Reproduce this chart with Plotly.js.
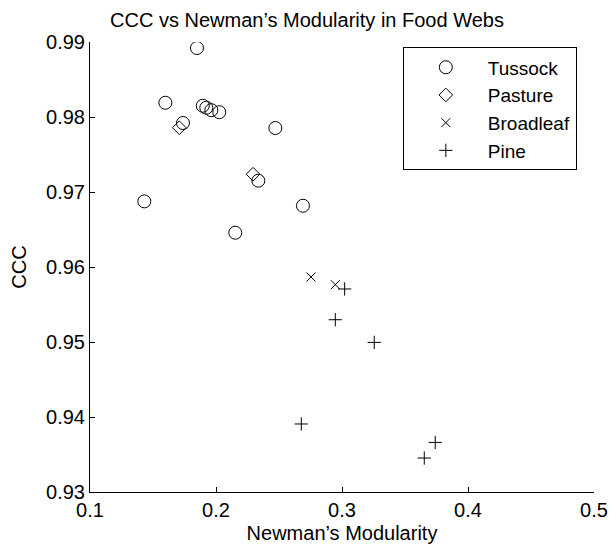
<!DOCTYPE html>
<html>
<head>
<meta charset="utf-8">
<script src="https://cdn.plot.ly/plotly-3.0.1.min.js"></script>
<style>html,body{margin:0;padding:0;background:#fff;}#chart{width:610px;height:546px;}</style>
</head>
<body>
<div id="chart"></div>
<script>
// Data
const tussockX = [0.1849, 0.1598, 0.1895, 0.1923, 0.1963, 0.2026, 0.1738, 0.2471, 0.2336, 0.1431, 0.2690, 0.2153];
const tussockY = [0.9892, 0.9819, 0.9815, 0.98124, 0.98091, 0.98064, 0.9792, 0.97853, 0.97151, 0.96875, 0.96817, 0.96457];
const pastureX = [0.1709, 0.2294];
const pastureY = [0.97857, 0.97237];
const broadleafX = [0.2754, 0.2947];
const broadleafY = [0.95867, 0.95764];
const pineX = [0.3021, 0.2947, 0.3256, 0.2677, 0.3740, 0.3653];
const pineY = [0.95707, 0.95297, 0.94995, 0.93907, 0.93661, 0.93453];
const seriesNames = ['Tussock', 'Pasture', 'Broadleaf', 'Pine'];
const xTicks = [0.1, 0.2, 0.3, 0.4, 0.5];
const yTicks = [0.93, 0.94, 0.95, 0.96, 0.97, 0.98, 0.99];

const FONT = 'Liberation Sans, Arial, Helvetica, sans-serif';
const lineStyle = {color: '#000', width: 1};
const traces = [
  {x: tussockX, y: tussockY, name: seriesNames[0], type: 'scatter', mode: 'markers',
   marker: {symbol: 'circle-open', size: 13, color: '#000', line: lineStyle}},
  {x: pastureX, y: pastureY, name: seriesNames[1], type: 'scatter', mode: 'markers',
   marker: {symbol: 'diamond-open', size: 10.5, color: '#000', line: lineStyle}},
  {x: broadleafX, y: broadleafY, name: seriesNames[2], type: 'scatter', mode: 'markers',
   marker: {symbol: 'x-thin-open', size: 9, color: '#000', line: lineStyle}},
  {x: pineX, y: pineY, name: seriesNames[3], type: 'scatter', mode: 'markers',
   marker: {symbol: 'cross-thin-open', size: 9.5, color: '#000', line: lineStyle}}
];

const layout = {
  width: 610, height: 546,
  margin: {l: 89.7, r: 16, t: 42.3, b: 54.3, pad: 0},
  paper_bgcolor: '#fff', plot_bgcolor: '#fff',
  font: {family: FONT, size: 20, color: '#000'},
  showlegend: true,
  title: {text: 'CCC vs Newman’s Modularity in Food Webs', x: 307/610, xref: 'container', xanchor: 'center',
          y: 1 - 20/546, yref: 'container', yanchor: 'middle', font: {family: FONT, size: 20, color: '#000'}},
  xaxis: {
    range: [0.1, 0.5], tickvals: xTicks, tickformat: '.1f',
    showgrid: false, zeroline: false, showline: true, linecolor: '#000', linewidth: 1,
    ticks: 'inside', ticklen: 5, tickcolor: '#000', tickwidth: 1, mirror: false,
    ticklabelstandoff: 0,
    title: {text: 'Newman’s Modularity', standoff: 5, font: {family: FONT, size: 20, color: '#000'}},
    automargin: false
  },
  yaxis: {
    range: [0.93, 0.99], tickvals: yTicks, tickformat: '.2f',
    showgrid: false, zeroline: false, showline: true, linecolor: '#000', linewidth: 1,
    ticks: 'inside', ticklen: 5, tickcolor: '#000', tickwidth: 1, mirror: false,
    ticklabelstandoff: 0,
    title: {text: 'CCC', standoff: 14, font: {family: FONT, size: 20, color: '#000'}},
    automargin: false
  },
  legend: {
    x: 0.6207, y: 0.988, xanchor: 'left', yanchor: 'top',
    bgcolor: '#fff', bordercolor: '#000', borderwidth: 1,
    itemwidth: 74, font: {family: FONT, size: 19, color: '#000'}
  }
};

Plotly.newPlot('chart', traces, layout, {displayModeBar: false, staticPlot: true});
</script>
</body>
</html>
